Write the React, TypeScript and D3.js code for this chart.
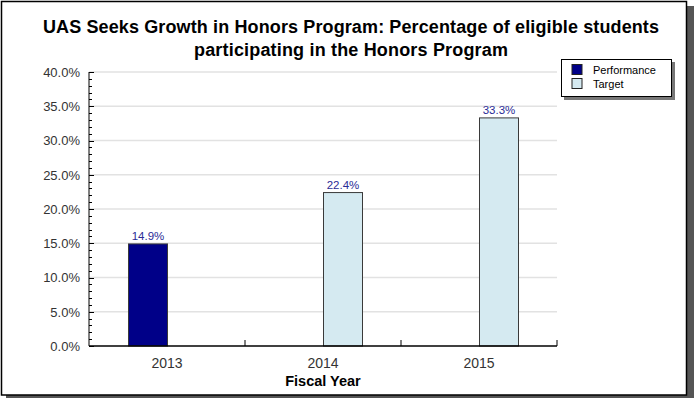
import { useEffect, useRef } from 'react';
import * as d3 from 'd3';

const categories = ['2013', '2014', '2015'];
const seriesNames = ['Performance', 'Target'];
const performance = [14.9, null, null];
const target = [null, 22.4, 33.3];
const yTickValues = [0, 5, 10, 15, 20, 25, 30, 35, 40];
const titleLines = [
  'UAS Seeks Growth in Honors Program: Percentage of eligible students',
  'participating in the Honors Program',
];
const titleWidths = [616, 314];
const xAxisTitle = 'Fiscal Year';

const seriesColors: Record<string, string> = {
  Performance: '#000088',
  Target: '#d5eaf1',
};

const FONT = 'Arial, "Liberation Sans", sans-serif';

export default function App() {
  const svgRef = useRef<SVGSVGElement>(null);

  useEffect(() => {
    if (!svgRef.current) return;
    const svg = d3.select(svgRef.current);
    svg.selectAll('*').remove();

    const W = 694;
    const H = 398;
    const plot = { left: 89, right: 557, top: 72, bottom: 346 };

    // Outer frame with drop shadow
    svg.append('rect').attr('x', 6).attr('y', 6).attr('width', W - 6).attr('height', H - 6).attr('fill', '#555');
    svg
      .append('rect')
      .attr('x', 1.5)
      .attr('y', 1.5)
      .attr('width', 685)
      .attr('height', 393.5)
      .attr('fill', '#fff')
      .attr('stroke', '#000')
      .attr('stroke-width', 1.5);

    // Title
    svg
      .append('g')
      .selectAll('text')
      .data(titleLines)
      .join('text')
      .attr('x', 351)
      .attr('y', (_, i) => 33 + i * 23)
      .attr('text-anchor', 'middle')
      .attr('font-family', FONT)
      .attr('font-size', 18)
      .attr('font-weight', 'bold')
      .attr('fill', '#000')
      .attr('textLength', (_, i) => titleWidths[i])
      .attr('lengthAdjust', 'spacing')
      .text((d) => d);

    // Scales
    const x = d3.scaleBand<string>().domain(categories).range([plot.left, plot.right]).padding(0);
    const inner = d3.scaleBand<string>().domain(seriesNames).range([-38.5, 39.5]);
    const y = d3.scaleLinear().domain([0, 40]).range([plot.bottom, plot.top]);

    // Grid lines
    svg
      .append('g')
      .selectAll('line')
      .data(yTickValues.filter((v) => v > 0))
      .join('line')
      .attr('x1', plot.left)
      .attr('x2', plot.right)
      .attr('y1', (d) => y(d))
      .attr('y2', (d) => y(d))
      .attr('stroke', '#e2e2e2')
      .attr('stroke-width', 1.5);

    // Bars
    const rows = categories.map((c, i) => ({ c, values: [performance[i], target[i]] }));
    const barG = svg.append('g');
    rows.forEach((row) => {
      row.values.forEach((v, si) => {
        if (v == null) return;
        const name = seriesNames[si];
        const cx = (x(row.c) as number) + x.bandwidth() / 2;
        const bx = cx + (inner(name) as number);
        barG
          .append('rect')
          .attr('x', bx)
          .attr('y', y(v))
          .attr('width', inner.bandwidth())
          .attr('height', y(0) - y(v))
          .attr('fill', seriesColors[name])
          .attr('stroke', '#3a3a3a')
          .attr('stroke-width', 1);
        barG
          .append('text')
          .attr('x', bx + inner.bandwidth() / 2)
          .attr('y', y(v) - 4)
          .attr('text-anchor', 'middle')
          .attr('font-family', FONT)
          .attr('font-size', 11.5)
          .attr('fill', '#2b2b96')
          .text(`${v.toFixed(1)}%`);
      });
    });

    // Y axis: line, ticks pointing inward, labels on the left
    const yAxis = svg.append('g');
    yAxis
      .append('line')
      .attr('x1', plot.left)
      .attr('x2', plot.left)
      .attr('y1', plot.top)
      .attr('y2', plot.bottom)
      .attr('stroke', '#000');
    yAxis
      .selectAll('line.minor')
      .data(d3.range(0, 41, 1))
      .join('line')
      .attr('class', 'minor')
      .attr('x1', plot.left)
      .attr('x2', (d) => plot.left + (d % 5 === 0 ? 5 : 3))
      .attr('y1', (d) => Math.round(y(d)) + 0.5)
      .attr('y2', (d) => Math.round(y(d)) + 0.5)
      .attr('stroke', '#000');
    yAxis
      .selectAll('text')
      .data(yTickValues)
      .join('text')
      .attr('x', 80)
      .attr('y', (d) => y(d))
      .attr('dy', '0.38em')
      .attr('text-anchor', 'end')
      .attr('font-family', FONT)
      .attr('font-size', 13)
      .attr('fill', '#333')
      .text((d) => `${d.toFixed(1)}%`);

    // X axis
    const xAxis = svg.append('g');
    xAxis
      .append('line')
      .attr('x1', plot.left)
      .attr('x2', plot.right)
      .attr('y1', plot.bottom)
      .attr('y2', plot.bottom)
      .attr('stroke', '#000')
      .attr('stroke-width', 1.5);
    xAxis
      .selectAll('line.tick')
      .data(categories)
      .join('line')
      .attr('class', 'tick')
      .attr('x1', (d) => (x(d) as number) + x.bandwidth())
      .attr('x2', (d) => (x(d) as number) + x.bandwidth())
      .attr('y1', plot.bottom)
      .attr('y2', plot.bottom - 6)
      .attr('stroke', '#000');
    xAxis
      .selectAll('text')
      .data(categories)
      .join('text')
      .attr('x', (d) => (x(d) as number) + x.bandwidth() / 2)
      .attr('y', 368)
      .attr('text-anchor', 'middle')
      .attr('font-family', FONT)
      .attr('font-size', 14)
      .attr('fill', '#333')
      .text((d) => d);
    svg
      .append('text')
      .attr('x', (plot.left + plot.right) / 2)
      .attr('y', 386)
      .attr('text-anchor', 'middle')
      .attr('font-family', FONT)
      .attr('font-size', 14.5)
      .attr('font-weight', 'bold')
      .attr('fill', '#000')
      .text(xAxisTitle);

    // Legend
    const legend = svg.append('g').attr('transform', 'translate(561,59)');
    legend.append('rect').attr('x', 3).attr('y', 3).attr('width', 111).attr('height', 38).attr('fill', '#777');
    legend
      .append('rect')
      .attr('x', 0.5)
      .attr('y', 0.5)
      .attr('width', 110)
      .attr('height', 37)
      .attr('fill', '#fff')
      .attr('stroke', '#000');
    const items = legend
      .selectAll('g.item')
      .data(seriesNames)
      .join('g')
      .attr('class', 'item')
      .attr('transform', (_, i) => `translate(11,${5.5 + i * 14})`);
    items
      .append('rect')
      .attr('width', 10)
      .attr('height', 10)
      .attr('fill', (d) => seriesColors[d])
      .attr('stroke', '#222');
    items
      .append('text')
      .attr('x', 21)
      .attr('y', 9)
      .attr('font-family', FONT)
      .attr('font-size', 11)
      .attr('fill', '#000')
      .text((d) => d);
  }, []);

  return (
    <svg
      ref={svgRef}
      width={694}
      height={398}
      style={{ position: 'absolute', left: 0, top: 0, background: '#fff' }}
    />
  );
}
